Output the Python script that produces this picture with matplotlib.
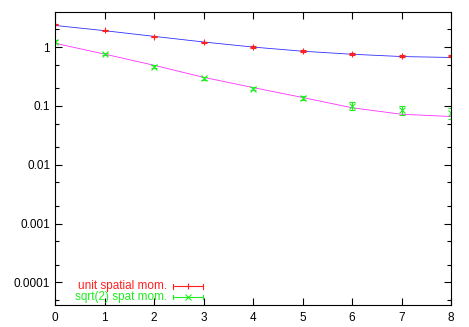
import numpy as np
import matplotlib
matplotlib.use("Agg")
import matplotlib.pyplot as plt
from matplotlib.ticker import FixedLocator, FixedFormatter, NullFormatter

# ── Data ──────────────────────────────────────────────────────────────────────
t = [0, 1, 2, 3, 4, 5, 6, 7, 8]

unit_vals = [2.43, 1.92, 1.50, 1.20, 1.00, 0.855, 0.77, 0.71, 0.695]
unit_errs = [0.07, 0.05, 0.04, 0.03, 0.025, 0.025, 0.025, 0.025, 0.03]
unit_fit = [2.33, 1.90, 1.52, 1.22, 1.00, 0.85, 0.755, 0.69, 0.665]

sqrt2_vals = [1.24, 0.76, 0.466, 0.295, 0.197, 0.137, 0.100, 0.085, 0.075]
sqrt2_errs = [0.06, 0.03, 0.02, 0.015, 0.012, 0.01, 0.016, 0.016, 0.016]
sqrt2_fit = [1.16, 0.76, 0.49, 0.306, 0.205, 0.139, 0.093, 0.072, 0.066]

labels = ["unit spatial mom.", "sqrt(2) spat mom."]
ytick_vals = [1e-4, 1e-3, 1e-2, 1e-1, 1]
ytick_labels = ["0.0001", "0.001", "0.01", "0.1", "1"]

plt.rcParams["font.family"] = ["Liberation Sans", "DejaVu Sans"]

fig = plt.figure(figsize=(4.69, 3.27), dpi=100)
ax = fig.add_axes([55 / 469, 22 / 327, 396 / 469, 293 / 327])

ax.plot(t, unit_fit, color="#3030ff", lw=0.6)
ax.plot(t, sqrt2_fit, color="#ff30ff", lw=0.6)
ax.errorbar(t, unit_vals, yerr=unit_errs, fmt="+", color="#ff2020",
            ms=5, mew=0.8, elinewidth=0.8, capsize=2.2, capthick=0.8)
ax.errorbar(t, sqrt2_vals, yerr=sqrt2_errs, fmt="x", color="#20ee20",
            ms=4, mew=0.8, elinewidth=0.8, capsize=2.2, capthick=0.8)

ax.set_yscale("log")
ax.set_xlim(0, 8)
ax.set_ylim(10 ** -4.385, 10 ** 0.596)
ax.set_xticks(t)
ax.set_xticklabels([str(v) for v in t])
ax.yaxis.set_major_locator(FixedLocator(ytick_vals))
ax.yaxis.set_major_formatter(FixedFormatter(ytick_labels))
minors = [m * 10.0 ** e for e in range(-5, 1) for m in (2, 5)]
ax.yaxis.set_minor_locator(FixedLocator(minors))
ax.yaxis.set_minor_formatter(NullFormatter())

ax.tick_params(which="both", direction="in", top=True, right=True,
               labelsize=8.5, width=0.8, colors="black")
ax.tick_params(which="major", length=5)
ax.tick_params(which="minor", length=3)
ax.tick_params(axis="x", pad=5)
for s in ax.spines.values():
    s.set_linewidth(0.8)

# ── gnuplot-style key ─────────────────────────────────────────────────────────
key_colors = ["#ff2020", "#20ee20"]
key_markers = ["+", "x"]
for i, (lab, c, m) in enumerate(zip(labels, key_colors, key_markers)):
    yk = 1 - (286.7 + 10.6 * i - 12.7) / 292.6
    x0, x1 = (173 - 55) / 396, (203 - 55) / 396
    xm = (188 - 55) / 396
    ax.text((167 - 55) / 396, yk, lab, color=c, fontsize=8.5,
            ha="right", va="center", transform=ax.transAxes)
    ax.plot([x0, x1], [yk, yk], color=c, lw=0.8, transform=ax.transAxes)
    for xe in (x0, x1):
        ax.plot([xe, xe], [yk - 0.008, yk + 0.008], color=c, lw=0.8,
                transform=ax.transAxes)
    ax.plot([xm], [yk], marker=m, color=c, ms=4.5, mew=0.8,
            transform=ax.transAxes)

fig.savefig("out.png", dpi=100)
